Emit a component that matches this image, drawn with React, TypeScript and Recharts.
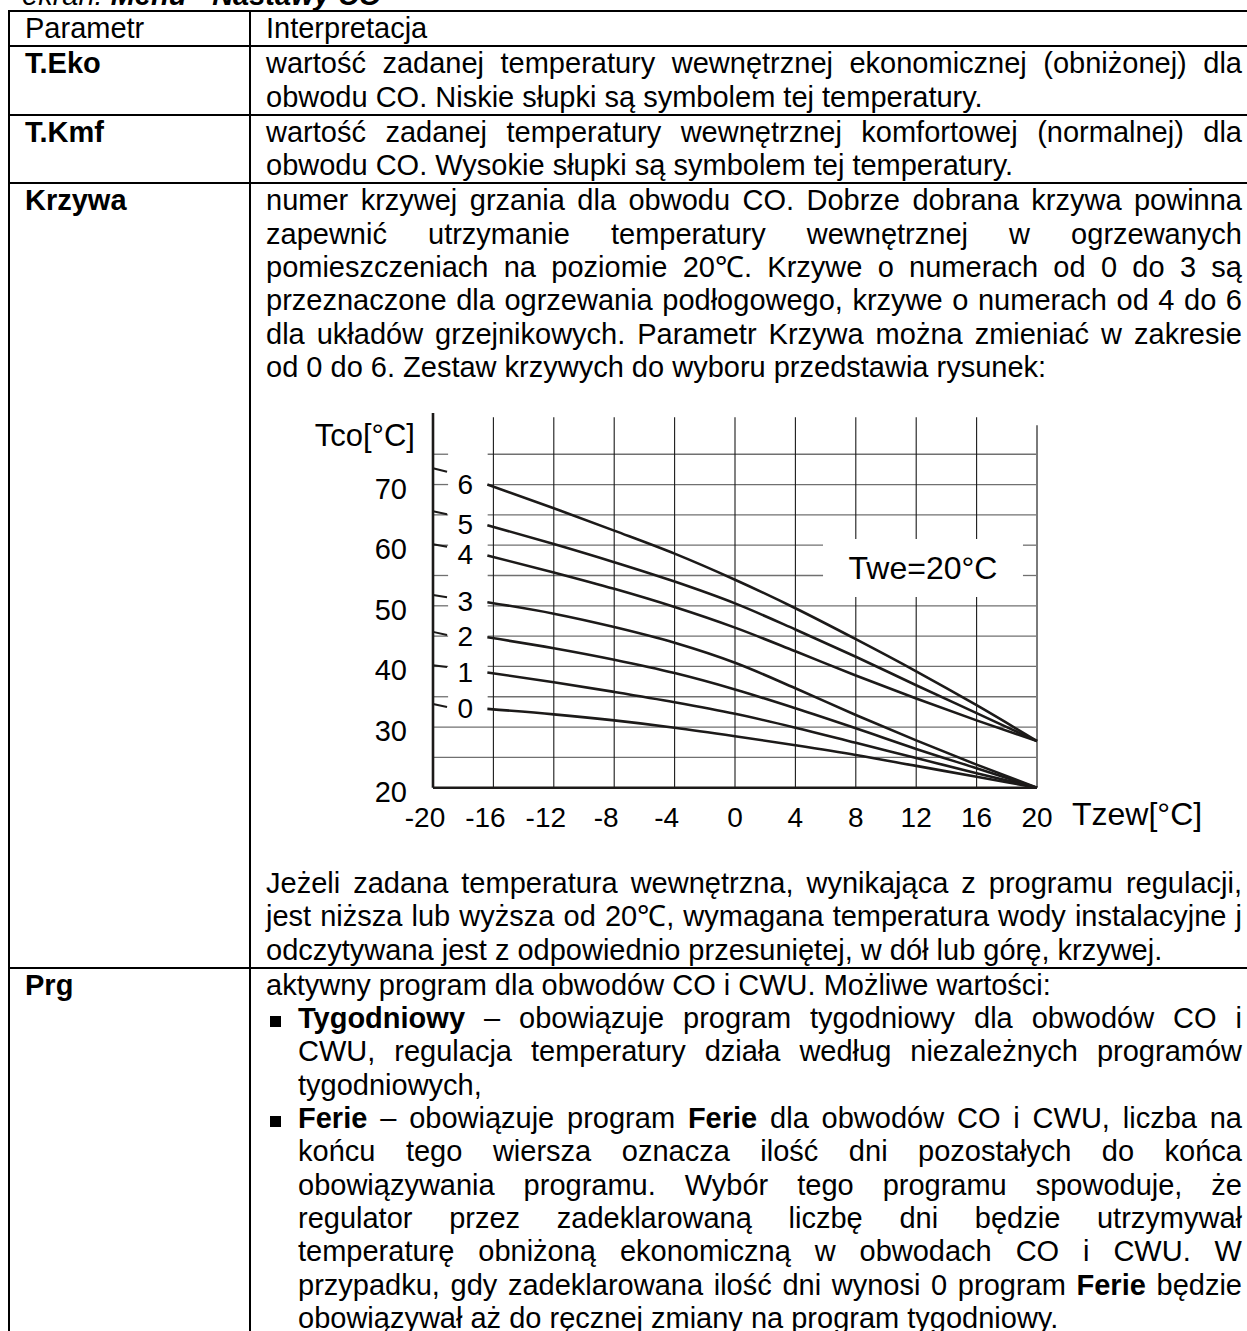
import React from 'react';
import { LineChart, Line, XAxis, YAxis, ReferenceLine, ReferenceArea, LabelList } from 'recharts';

// ---------- chart data ----------
const outdoorTemps = [-16.4, -12, -8, -4, 0, 4, 8, 12, 16, 20];
const curve0 = [33.0, 32.1, 31.1, 29.9, 28.5, 27.0, 25.4, 23.6, 21.8, 20.0];
const curve1 = [39.0, 37.4, 35.8, 34.1, 32.2, 29.9, 27.4, 24.9, 22.4, 20.0];
const curve2 = [44.8, 43.0, 41.1, 38.9, 36.2, 33.1, 29.8, 26.4, 23.2, 20.0];
const curve3 = [50.6, 48.7, 46.5, 43.9, 40.6, 36.4, 32.0, 27.8, 23.8, 20.0];
const curve4 = [58.3, 55.5, 52.8, 49.8, 46.4, 42.5, 38.5, 34.7, 31.1, 27.7];
const curve5 = [63.3, 60.2, 57.2, 54.0, 50.4, 46.1, 41.6, 36.9, 32.3, 27.7];
const curve6 = [70.0, 66.1, 62.4, 58.6, 54.3, 49.6, 44.5, 39.2, 33.6, 27.7];
const curveNames = ['0', '1', '2', '3', '4', '5', '6'];
const xTicks = [-20, -16, -12, -8, -4, 0, 4, 8, 12, 16, 20];
const yTicks = [20, 30, 40, 50, 60, 70];
const yGridValues = [25, 30, 35, 40, 45, 50, 55, 60, 65, 70, 75];
const xGridValues = [-16, -12, -8, -4, 0, 4, 8, 12, 16];
const leaderStart = [33.8, 40.2, 45.7, 51.8, 60.15, 65.6, 72.7];
const leaderEnd = [33.3, 39.9, 45.2, 51.4, 59.75, 65.1, 72.1];

const curves = [curve0, curve1, curve2, curve3, curve4, curve5, curve6];
const rows = outdoorTemps.map((t, i) => {
  const r: any = { t };
  curves.forEach((c, k) => { r['c' + k] = c[i]; });
  return r;
});

// ---------- annotation geometry (data units) ----------
const X_MIN = -20, X_MAX = 20, Y_MIN = 20, Y_MAX = 81.8;
const V_GRID_TOP = 81.1;
const BORDER_TOP = 79.8;
const LABEL_GAP: [number, number] = [-19.0, -16.38];
const LEADER_X2 = -19.07;
const TWE_BOX = { x1: 5.83, x2: 19.07, y1: 51.45, y2: 61.02 };

const FONT = "'Liberation Sans', Arial, Helvetica, sans-serif";
const FS = 29;
const LH = 33.3;
const INK = '#1c1a19';

function cut(parts: [number, number][], a: number, b: number): [number, number][] {
  const out: [number, number][] = [];
  parts.forEach(([p, q]) => {
    if (b <= p || a >= q) { out.push([p, q]); return; }
    if (a > p) out.push([p, a]);
    if (b < q) out.push([b, q]);
  });
  return out;
}

function hParts(y: number) {
  let parts: [number, number][] = [[X_MIN, X_MAX]];
  if (y >= 35) parts = cut(parts, LABEL_GAP[0], LABEL_GAP[1]);
  if (y > TWE_BOX.y1 && y < TWE_BOX.y2) parts = cut(parts, TWE_BOX.x1, TWE_BOX.x2);
  return parts;
}

function vParts(x: number) {
  let parts: [number, number][] = [[Y_MIN, V_GRID_TOP]];
  if (x > TWE_BOX.x1 && x < TWE_BOX.x2) parts = cut(parts, TWE_BOX.y1, TWE_BOX.y2);
  return parts;
}

const XTick = (p: any) => {
  const v = p.payload.value;
  return (
    <text x={p.x + (v < 0 ? -8 : 0)} y={p.y + 39} textAnchor="middle" fontSize={28} fontFamily={FONT} fill="#000">
      {v}
    </text>
  );
};

const YTick = (p: any) => (
  <text x={p.x - 26} y={p.y + 14} textAnchor="end" fontSize={29} fontFamily={FONT} fill="#000">
    {p.payload.value}
  </text>
);

function Chart() {
  const hLines: any[] = [];
  yGridValues.forEach((y) => {
    hParts(y).forEach(([a, b], j) => {
      hLines.push(
        <ReferenceLine key={`h${y}-${j}`} segment={[{ x: a, y }, { x: b, y }]} stroke="#707070" strokeWidth={1.3} ifOverflow="visible" />
      );
    });
  });
  const vLines: any[] = [];
  xGridValues.forEach((x) => {
    vParts(x).forEach(([a, b], j) => {
      vLines.push(
        <ReferenceLine key={`v${x}-${j}`} segment={[{ x, y: a }, { x, y: b }]} stroke="#1a1a1a" strokeWidth={1.1} ifOverflow="visible" />
      );
    });
  });
  return (
    <LineChart width={960} height={480} data={rows} margin={{ top: 33, right: 203, bottom: 32.3, left: 93 }}>
      <XAxis
        type="number"
        dataKey="t"
        domain={[X_MIN, X_MAX]}
        ticks={xTicks}
        interval={0}
        height={40}
        tickSize={0}
        tickMargin={0}
        tickLine={false}
        axisLine={{ stroke: INK, strokeWidth: 2.6 }}
        tick={(p: any) => <XTick {...p} />}
        label={{
          content: (lp: any) => {
            const vb = lp.viewBox || {};
            return (
              <text x={vb.x + vb.width + 35} y={vb.y + 37.5} fontSize={32} fontFamily={FONT} fill="#000">
                Tzew[°C]
              </text>
            );
          },
        }}
      />
      <YAxis
        type="number"
        domain={[Y_MIN, Y_MAX]}
        ticks={yTicks}
        interval={0}
        width={60}
        tickSize={0}
        tickMargin={0}
        tickLine={false}
        axisLine={{ stroke: INK, strokeWidth: 2.6 }}
        tick={(p: any) => <YTick {...p} />}
        label={{
          content: (lp: any) => {
            const vb = lp.viewBox || {};
            return (
              <text x={vb.x + vb.width - 18} y={vb.y + 33} textAnchor="end" fontSize={31} fontFamily={FONT} fill="#000">
                Tco[°C]
              </text>
            );
          },
        }}
      />
      {hLines}
      {vLines}
      <ReferenceLine segment={[{ x: X_MAX, y: Y_MIN }, { x: X_MAX, y: BORDER_TOP }]} stroke="#7a7a7a" strokeWidth={2} ifOverflow="visible" />
      {leaderStart.map((s, i) => (
        <ReferenceLine key={`ld${i}`} segment={[{ x: X_MIN, y: s }, { x: LEADER_X2, y: leaderEnd[i] }]} stroke={INK} strokeWidth={2} ifOverflow="visible" />
      ))}
      <ReferenceArea
        x1={TWE_BOX.x1}
        x2={TWE_BOX.x2}
        y1={TWE_BOX.y1}
        y2={TWE_BOX.y2}
        fill="#ffffff"
        fillOpacity={1}
        stroke="none"
        ifOverflow="visible"
        label={{ value: 'Twe=20°C', position: 'center', fontSize: 32, fill: '#000', fontFamily: FONT }}
      />
      {curves.map((_, k) => (
        <Line
          key={`c${k}`}
          dataKey={`c${k}`}
          type="monotone"
          stroke={INK}
          strokeWidth={2.6}
          dot={false}
          activeDot={false}
          isAnimationActive={false}
        >
          <LabelList
            dataKey={`c${k}`}
            content={(p: any) =>
              p.index === 0 ? (
                <text x={p.x - 22} y={p.y + 9} textAnchor="middle" fontSize={28} fontFamily={FONT} fill="#000">
                  {curveNames[k]}
                </text>
              ) : null
            }
          />
        </Line>
      ))}
    </LineChart>
  );
}

// ---------- document text ----------
function TL({ children, j }: { children: any; j?: boolean }) {
  return (
    <div
      style={{
        height: LH,
        lineHeight: LH + 'px',
        textAlign: j ? 'justify' : 'left',
        textAlignLast: j ? 'justify' : 'left',
        textJustify: 'inter-word',
        whiteSpace: 'normal',
      } as any}
    >
      {children}
    </div>
  );
}

function BL({ children, j, bullet }: { children: any; j?: boolean; bullet?: boolean }) {
  return (
    <div style={{ position: 'relative', paddingLeft: 32 }}>
      {bullet && (
        <span style={{ position: 'absolute', left: 4, top: 13.5, width: 11, height: 11, background: '#000' }} />
      )}
      <TL j={j}>{children}</TL>
    </div>
  );
}

const Deg = ({ t }: { t: string }) => (
  <span style={{ display: 'inline-block', whiteSpace: 'nowrap' }}>{t}</span>
);

function Row({ label, bold, children }: { label: string; bold?: boolean; children: any }) {
  return (
    <div style={{ display: 'flex', borderBottom: '2px solid #000' }}>
      <div
        style={{
          width: 241,
          boxSizing: 'border-box',
          borderRight: '2px solid #000',
          paddingLeft: 15,
          fontWeight: bold ? 'bold' : 'normal',
          lineHeight: LH + 'px',
          flexShrink: 0,
        }}
      >
        {label}
      </div>
      <div style={{ paddingLeft: 15, width: 976, flexShrink: 0 }}>{children}</div>
    </div>
  );
}

export default function App() {
  return (
    <div
      style={{
        position: 'absolute',
        left: 0,
        top: 0,
        width: 1247,
        height: 1331,
        overflow: 'hidden',
        background: '#fff',
        fontFamily: FONT,
        fontSize: FS,
        color: '#000',
      }}
    >
      <style>{`html,body{margin:0;padding:0;overflow:hidden;background:#fff}`}</style>
      <div style={{ position: 'absolute', left: 22, top: -20.7, lineHeight: LH + 'px', whiteSpace: 'nowrap', fontStyle: 'italic' }}>
        ekran: <b>Menu - Nastawy CO</b>
      </div>
      <div style={{ position: 'absolute', left: 8, top: 10, width: 1300, borderTop: '2px solid #000', borderLeft: '2px solid #000' }}>
        <Row label="Parametr">
          <TL>Interpretacja</TL>
        </Row>
        <Row label="T.Eko" bold>
          <TL j>wartość zadanej temperatury wewnętrznej ekonomicznej (obniżonej) dla</TL>
          <TL>obwodu CO. Niskie słupki są symbolem tej temperatury.</TL>
        </Row>
        <Row label="T.Kmf" bold>
          <TL j>wartość zadanej temperatury wewnętrznej komfortowej (normalnej) dla</TL>
          <TL>obwodu CO. Wysokie słupki są symbolem tej temperatury.</TL>
        </Row>
        <Row label="Krzywa" bold>
          <TL j>numer krzywej grzania dla obwodu CO. Dobrze dobrana krzywa powinna</TL>
          <TL j>zapewnić utrzymanie temperatury wewnętrznej w ogrzewanych</TL>
          <TL j>pomieszczeniach na poziomie <Deg t="20℃." /> Krzywe o numerach od 0 do 3 są</TL>
          <TL j>przeznaczone dla ogrzewania podłogowego, krzywe o numerach od 4 do 6</TL>
          <TL j>dla układów grzejnikowych. Parametr Krzywa można zmieniać w zakresie</TL>
          <TL>od 0 do 6. Zestaw krzywych do wyboru przedstawia rysunek:</TL>
          <div style={{ height: 482.7 }} />
          <TL j>Jeżeli zadana temperatura wewnętrzna, wynikająca z programu regulacji,</TL>
          <TL j>jest niższa lub wyższa od <Deg t="20℃," /> wymagana temperatura wody instalacyjne j</TL>
          <TL>odczytywana jest z odpowiednio przesuniętej, w dół lub górę, krzywej.</TL>
        </Row>
        <Row label="Prg" bold>
          <TL>aktywny program dla obwodów CO i CWU. Możliwe wartości:</TL>
          <BL j bullet><b>Tygodniowy</b> – obowiązuje program tygodniowy dla obwodów CO i</BL>
          <BL j>CWU, regulacja temperatury działa według niezależnych programów</BL>
          <BL>tygodniowych,</BL>
          <BL j bullet><b>Ferie</b> – obowiązuje program <b>Ferie</b> dla obwodów CO i CWU, liczba na</BL>
          <BL j>końcu tego wiersza oznacza ilość dni pozostałych do końca</BL>
          <BL j>obowiązywania programu. Wybór tego programu spowoduje, że</BL>
          <BL j>regulator przez zadeklarowaną liczbę dni będzie utrzymywał</BL>
          <BL j>temperaturę obniżoną ekonomiczną w obwodach CO i CWU. W</BL>
          <BL j>przypadku, gdy zadeklarowana ilość dni wynosi 0 program <b>Ferie</b> będzie</BL>
          <BL>obowiązywał aż do ręcznej zmiany na program tygodniowy.</BL>
        </Row>
      </div>
      <div style={{ position: 'absolute', left: 280, top: 380, width: 960, height: 480 }}>
        <Chart />
      </div>
    </div>
  );
}
